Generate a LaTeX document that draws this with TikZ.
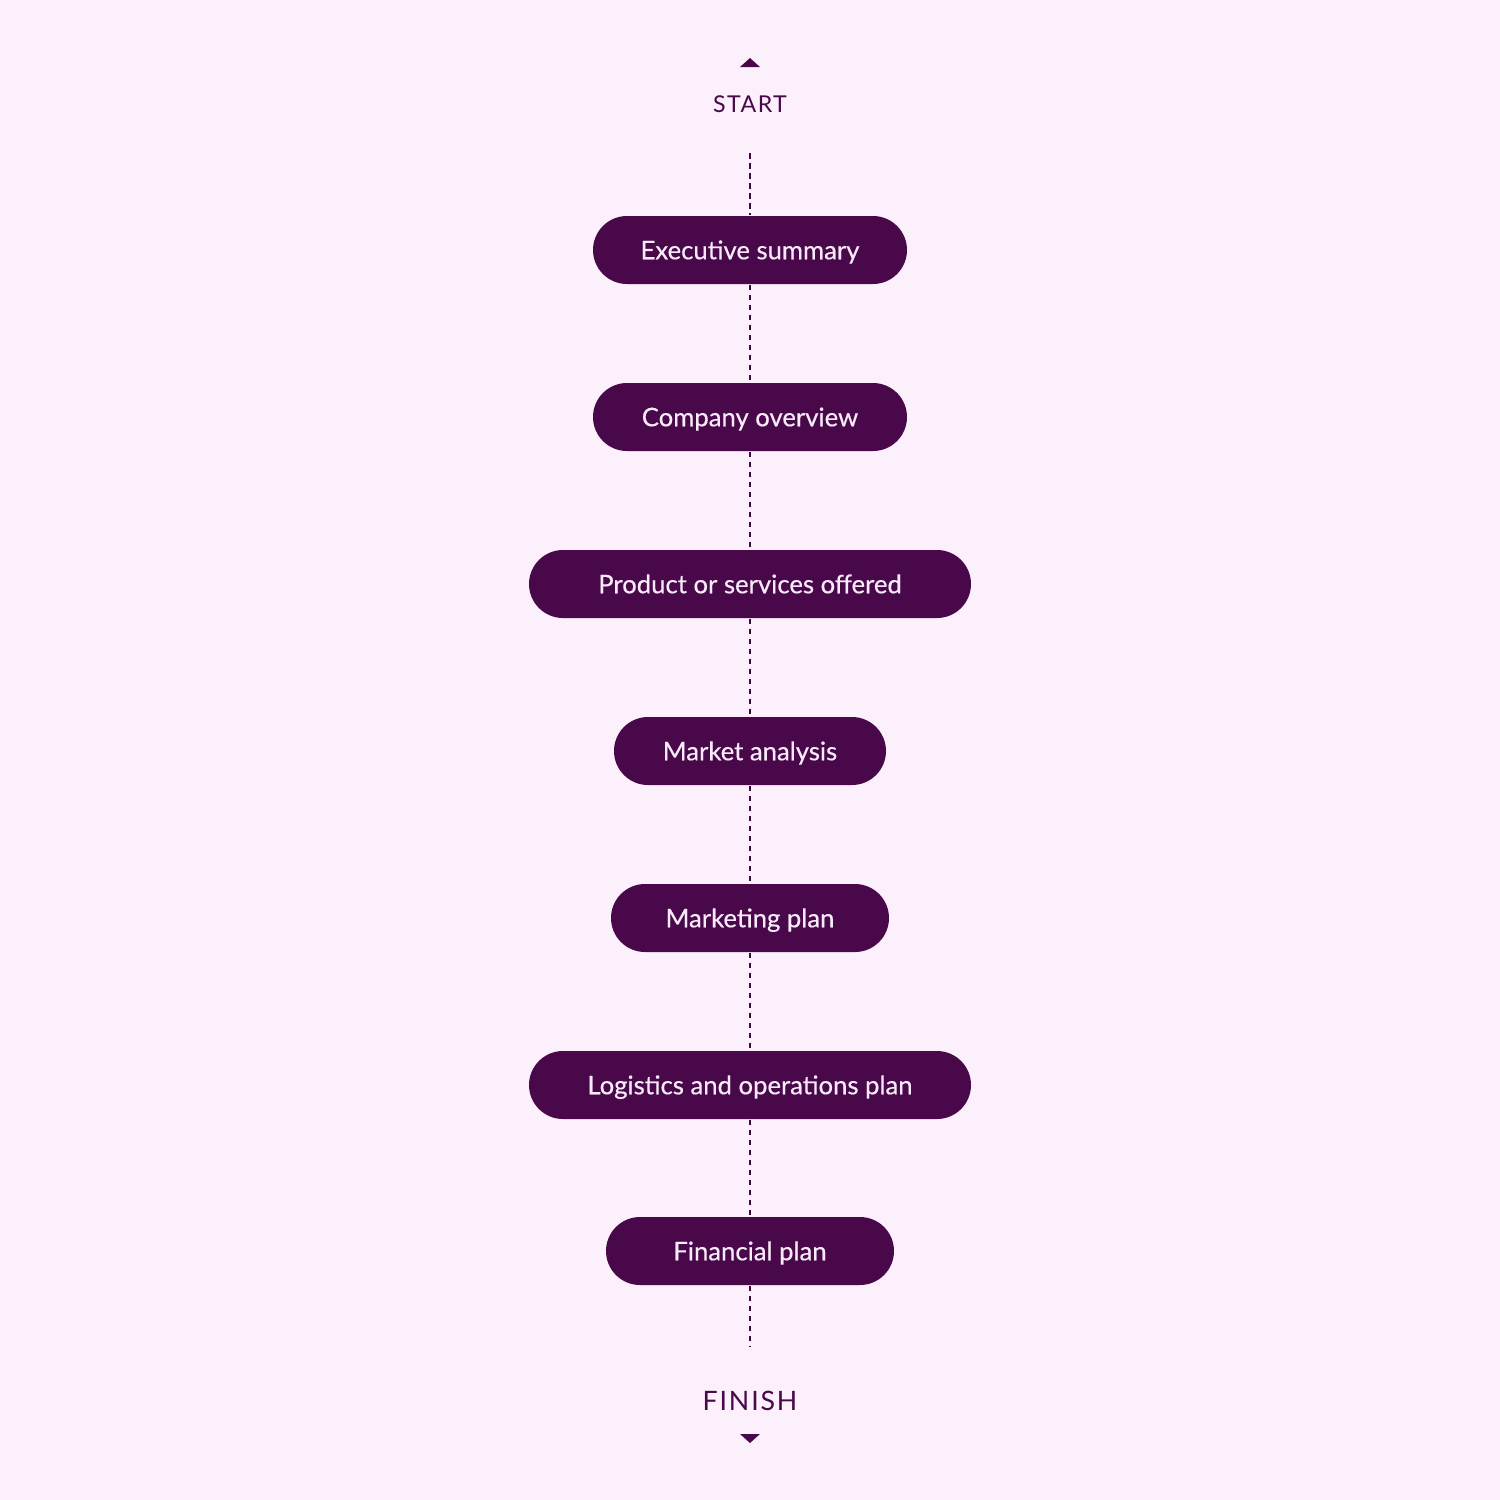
\documentclass[tikz,border=0pt]{standalone}
\usepackage{fontspec}
\setmainfont{Lato}
\usetikzlibrary{positioning}
\definecolor{bgpink}{HTML}{FCF0FC}
\definecolor{plum}{HTML}{48084A}
\definecolor{pilltext}{HTML}{F8EAF8}
\tikzset{
  pill/.style={fill=plum, text=pilltext, rounded corners=0.34cm, minimum height=0.68cm,
    inner sep=0pt, text height=0.185cm, text depth=0cm,
    font=\fontsize{7.3}{8}\selectfont\addfontfeature{FakeBold=0.5}},
  endlabel/.style={text=plum, inner sep=0pt},
  trail/.style={plum!85!black, dashed, dash pattern=on 0.055cm off 0.045cm, line width=0.016cm}
}
\begin{document}
\begin{tikzpicture}
        \fill[bgpink] (0,0) rectangle (15,-15);
        \useasboundingbox (0,0) rectangle (15,-15);

        \fill[plum] (7.40,-0.67) -- (7.60,-0.67) -- (7.50,-0.58) -- cycle;
        \node[endlabel, font=\fontsize{6.6}{8}\selectfont\addfontfeature{LetterSpace=6}] (start) at (7.5,-1.04) {START};
        \coordinate (top) at (7.5,-1.53);

        \node[pill, minimum width=3.14cm] (exec) at (7.5,-2.50) {Executive summary};
        \node[pill, minimum width=3.14cm] (company) at (7.5,-4.17) {Company overview};
        \node[pill, minimum width=4.42cm] (product) at (7.5,-5.84) {Product or services offered};
        \node[pill, minimum width=2.72cm] (market) at (7.5,-7.51) {Market analysis};
        \node[pill, minimum width=2.78cm] (marketing) at (7.5,-9.18) {Marketing plan};
        \node[pill, minimum width=4.42cm] (logistics) at (7.5,-10.85) {Logistics and operations plan};
        \node[pill, minimum width=2.88cm] (financial) at (7.5,-12.51) {Financial plan};

        \coordinate (bottom) at (7.5,-13.47);
        \node[endlabel, font=\fontsize{7.6}{9}\selectfont\addfontfeature{LetterSpace=7}] (finish) at (7.5,-14.01) {FINISH};
        \fill[plum] (7.40,-14.34) -- (7.60,-14.34) -- (7.50,-14.43) -- cycle;

        \draw[trail] (top) -- (exec);
        \draw[trail] (exec) -- (company);
        \draw[trail] (company) -- (product);
        \draw[trail] (product) -- (market);
        \draw[trail] (market) -- (marketing);
        \draw[trail] (marketing) -- (logistics);
        \draw[trail] (logistics) -- (financial);
        \draw[trail] (financial) -- (bottom);
      \end{tikzpicture}
\end{document}
